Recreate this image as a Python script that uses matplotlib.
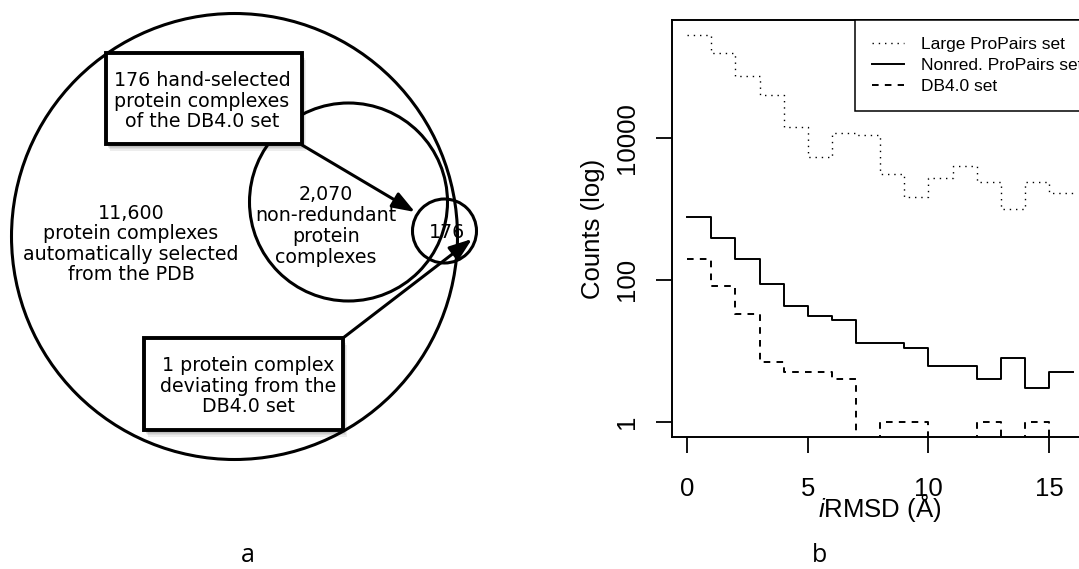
import numpy as np
import matplotlib
matplotlib.use('Agg')
import matplotlib.pyplot as plt
from matplotlib.patches import Ellipse, Rectangle

# ---- panel b data: counts per 1 A iRMSD bin (0..16 A) ----
bin_edges = np.arange(0, 17)
large_counts = [284000, 160000, 75700, 40900, 14200, 5450, 11600, 11000,
                3080, 1490, 2700, 4060, 2390, 1010, 2390, 1690]
nonred_counts = [780, 385, 195, 86, 43, 31, 27, 13, 13, 11, 6, 6, 4, 8, 3, 5]
db4_counts = [194, 82, 33, 7, 5, 5, 4, 0, 1, 1, 0, 0, 1, 0, 1, 0]
series_labels = ['Large ProPairs set', 'Nonred. ProPairs set', 'DB4.0 set']
y_ticks = [1, 100, 10000]
x_ticks = [0, 5, 10, 15]

# ---- panel a texts ----
outer_label = '11,600\nprotein complexes\nautomatically selected\nfrom the PDB'
middle_label = '2,070\nnon-redundant\nprotein\ncomplexes'
inner_label = '176'
box_top_label = '176 hand-selected\nprotein complexes\nof the DB4.0 set'
box_bottom_label = '1 protein complex\ndeviating from the\nDB4.0 set'

plt.rcParams['mathtext.fontset'] = 'custom'
plt.rcParams['mathtext.rm'] = 'Liberation Sans'
plt.rcParams['mathtext.it'] = 'Liberation Sans:italic'

W, H = 1079, 569
fig = plt.figure(figsize=(W / 100, H / 100), dpi=100)

# panel a drawn in pixel coordinates
axa = fig.add_axes([0, 0, 1, 1])
axa.set_xlim(0, W)
axa.set_ylim(H, 0)
axa.axis('off')

for cx, cy, r in [(234.5, 236.5, 223), (348.5, 202, 99), (444.5, 231, 32)]:
    axa.add_patch(Ellipse((cx, cy), 2 * r, 2 * r, fill=False, lw=2.2,
                          ec='black', zorder=1))


def draw_box(x0, y0, x1, y1):
    for k in range(1, 6):
        axa.add_patch(Rectangle((x0 + k * 0.8, y0 + k * 1.3), x1 - x0, y1 - y0,
                                fc='black', ec='none', alpha=0.07, zorder=3))
    axa.add_patch(Rectangle((x0, y0), x1 - x0, y1 - y0, fc='white',
                            ec='black', lw=2.8, zorder=4))


draw_box(106, 53, 302, 144)
draw_box(144, 338, 343, 430)

arrow_kw = dict(arrowstyle='-|>,head_length=0.55,head_width=0.2', lw=2.2,
                color='black', mutation_scale=25, shrinkA=0, shrinkB=0)
axa.annotate('', xy=(415, 212), xytext=(302, 145), arrowprops=arrow_kw, zorder=2)
axa.annotate('', xy=(472, 239), xytext=(343, 338), arrowprops=arrow_kw, zorder=2)

tkw = dict(family='DejaVu Sans', fontsize=13.7, ha='center', va='center',
           multialignment='center', linespacing=1.08, zorder=6)
axa.text(131, 244, outer_label, **tkw)
axa.text(326, 226, middle_label, **dict(tkw, linespacing=1.12))
axa.text(447, 232, inner_label, **tkw)
axa.text(202, 101, box_top_label, **tkw)
axa.text(248, 386, box_bottom_label, **tkw)

# panel b
left, right, top, bottom = 671.7, 1088.6, 20, 437
axb = fig.add_axes([left / W, 1 - bottom / H, (right - left) / W, (bottom - top) / H])
axb.set_yscale('log')

ld, = axb.step(bin_edges, large_counts + large_counts[-1:], where='post',
               color='black', lw=1.0, linestyle=(0, (1, 3.5)))
ls, = axb.step(bin_edges, nonred_counts + nonred_counts[-1:], where='post',
               color='black', lw=1.4)
lz, = axb.step(bin_edges, db4_counts + db4_counts[-1:], where='post',
               color='black', lw=1.4, linestyle=(0, (3.4, 3.2)))

axb.set_xlim(-0.64, 16.64)
axb.set_ylim(10 ** -0.216, 10 ** 5.664)
axb.set_xticks(x_ticks)
axb.set_xticklabels([str(v) for v in x_ticks], family='Liberation Sans', fontsize=18.5)
axb.set_yticks(y_ticks)
axb.set_yticklabels([str(v) for v in y_ticks], family='Liberation Sans', fontsize=18.5,
                    rotation=90, va='center')
axb.yaxis.set_minor_locator(matplotlib.ticker.NullLocator())
axb.tick_params(axis='x', length=11.5, width=1.3, pad=17)
axb.tick_params(axis='y', length=11.5, width=1.3, pad=11.8)
for s in axb.spines.values():
    s.set_linewidth(1.4)

axb.text(0.5, -0.1703, r'$\mathit{i}$RMSD (Å)', transform=axb.transAxes,
         family='Liberation Sans', fontsize=18.5, ha='center', va='center')
axb.text(-0.189, 0.499, 'Counts (log)', transform=axb.transAxes, rotation=90,
         family='Liberation Sans', fontsize=18.5, ha='center', va='center')

leg = axb.legend([ld, ls, lz], series_labels, loc='upper left',
                 bbox_to_anchor=(0.4397, 1.0), borderaxespad=0, fancybox=False,
                 edgecolor='black', framealpha=1, prop={'family': 'Liberation Sans', 'size': 12.5},
                 handlelength=1.85, handletextpad=1.0, borderpad=0.95, labelspacing=0.35)
leg.get_frame().set_linewidth(1.1)

fig.text(248 / W, 1 - 556 / H, 'a', family='Open Sans', fontsize=18, ha='center', va='center')
fig.text(820 / W, 1 - 556 / H, 'b', family='Open Sans', fontsize=18, ha='center', va='center')

fig.savefig('out.png', dpi=100)
